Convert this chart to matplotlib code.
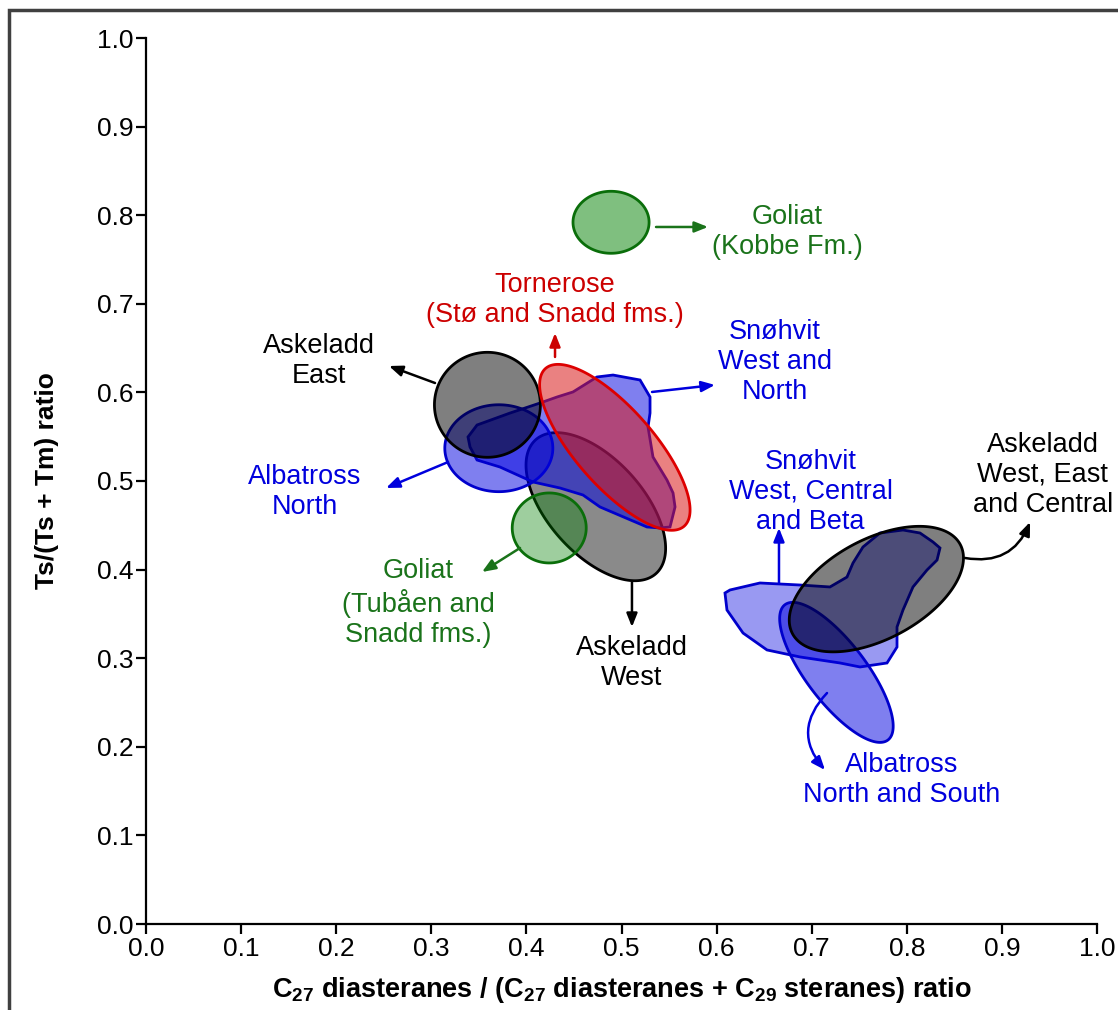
import numpy as np
import matplotlib
matplotlib.use("Agg")
import matplotlib.pyplot as plt
from matplotlib.patches import Polygon, Rectangle

plt.rcParams['font.family'] = ['Liberation Sans', 'DejaVu Sans']
plt.rcParams['mathtext.fontset'] = 'custom'
plt.rcParams['mathtext.rm'] = 'Liberation Sans:bold'
plt.rcParams['mathtext.it'] = 'Liberation Sans:bold'
plt.rcParams['mathtext.bf'] = 'Liberation Sans:bold'

# --- DATA ---
# ellipses: centre x, centre y, semi-axes (in x-axis units), angle (deg, on screen)
ell_names = ["Goliat Kobbe", "Askeladd West", "Goliat Tubaen", "Albatross North",
             "Askeladd East", "Tornerose", "Albatross N+S", "Askeladd WEC"]
ell_cx = [0.489, 0.473, 0.424, 0.371, 0.359, 0.493, 0.726, 0.768]
ell_cy = [0.792, 0.471, 0.447, 0.537, 0.586, 0.538, 0.284, 0.378]
ell_a = [0.040, 0.0946, 0.0389, 0.0568, 0.0557, 0.1104, 0.0894, 0.0999]
ell_b = [0.0326, 0.050, 0.0368, 0.0457, 0.0552, 0.041, 0.0315, 0.0526]
ell_ang = [0, -48, 0, 0, 0, -48.7, -52.7, 28]
ell_face = ['#008000', 'black', '#008000', '#0000e0', 'black', '#d91a1a', '#0000e0', 'black']
ell_alpha = [0.5, 0.46, 0.38, 0.5, 0.5, 0.55, 0.5, 0.5]
ell_edge = ['#0a6e0a', 'black', '#0a6e0a', '#0000cc', 'black', '#dd0000', '#0000cc', 'black']
ell_z = [3, 3, 4, 5, 7, 8, 4, 5]

# Snohvit West and North outline
swn_x = [0.3386, 0.3481, 0.3828, 0.4143, 0.4322, 0.4490, 0.4742, 0.4911, 0.5195, 0.5300,
         0.5300, 0.5279, 0.5331, 0.5478, 0.5542, 0.5563, 0.5510, 0.5405, 0.5268, 0.4774,
         0.4595, 0.4353, 0.4069, 0.3722, 0.3481, 0.3407]
swn_y = [0.5497, 0.5632, 0.5767, 0.5880, 0.5948, 0.6005, 0.6174, 0.6196, 0.6140, 0.5948,
         0.5767, 0.5609, 0.5271, 0.5011, 0.4865, 0.4707, 0.4481, 0.4470, 0.4481, 0.4707,
         0.4842, 0.4921, 0.4989, 0.5158, 0.5237, 0.5384]

# Snohvit West, Central and Beta outline
swcb_x = [0.6088, 0.6141, 0.6456, 0.6877, 0.7192, 0.7371, 0.7434, 0.7539, 0.7718, 0.7960,
          0.8139, 0.8275, 0.8349, 0.8318, 0.8212, 0.8065, 0.7960, 0.7897, 0.7897, 0.7792,
          0.7508, 0.7298, 0.6877, 0.6530, 0.6278, 0.6109]
swcb_y = [0.3736, 0.3770, 0.3849, 0.3826, 0.3804, 0.3916, 0.4074, 0.4255, 0.4413, 0.4447,
          0.4413, 0.4312, 0.4244, 0.4108, 0.3995, 0.3804, 0.3544, 0.3352, 0.3126, 0.2946,
          0.2901, 0.2946, 0.3014, 0.3093, 0.3284, 0.3544]

# labels: text, text position, arrow start -> arrow end, colour, curvature
lab_text = ["Goliat\n(Kobbe Fm.)", "Goliat\n(Tubåen and\nSnadd fms.)", "Askeladd\nEast",
            "Albatross\nNorth", "Snøhvit\nWest and\nNorth", "Tornerose\n(Stø and Snadd fms.)",
            "Askeladd\nWest", "Snøhvit\nWest, Central\nand Beta", "Askeladd\nWest, East\nand Central",
            "Albatross\nNorth and South"]
lab_x = [0.674, 0.286, 0.182, 0.167, 0.661, 0.430, 0.511, 0.699, 0.943, 0.795]
lab_y = [0.781, 0.362, 0.635, 0.488, 0.634, 0.704, 0.295, 0.488, 0.507, 0.1625]
arr_x0 = [0.5363, 0.3933, 0.3039, 0.3176, 0.5321, 0.4301, 0.5110, 0.6656, 0.8612, 0.7161]
arr_y0 = [0.7867, 0.4244, 0.6106, 0.5214, 0.6005, 0.6400, 0.3860, 0.3849, 0.4131, 0.2607]
arr_x1 = [0.5910, 0.3533, 0.2555, 0.2524, 0.5983, 0.4301, 0.5110, 0.6656, 0.9296, 0.7140]
arr_y1 = [0.7867, 0.3973, 0.6298, 0.4921, 0.6084, 0.6670, 0.3352, 0.4470, 0.4537, 0.1738]
lab_col = ['#1a731a', '#1a731a', 'black', '#0000dd', '#0000dd', '#cc0000',
           'black', '#0000dd', 'black', '#0000dd']
arr_rad = [0, 0, 0, 0, 0, 0, 0, 0, 0.4, 0.45]

# --- PLOT ---
W, H = 1118, 1010
fig = plt.figure(figsize=(W / 100, H / 100), dpi=100)
ax = fig.add_axes([146 / W, 1 - 924 / H, 951 / W, 886 / H])
ax.set_xlim(0, 1)
ax.set_ylim(0, 1)

# screen aspect: y-units are shorter than x-units
s = 886 / 951

t = np.linspace(0, 2 * np.pi, 200)
for i in range(len(ell_cx)):
    th = np.deg2rad(ell_ang[i])
    u = ell_a[i] * np.cos(t) * np.cos(th) - ell_b[i] * np.sin(t) * np.sin(th)
    v = ell_a[i] * np.cos(t) * np.sin(th) + ell_b[i] * np.sin(t) * np.cos(th)
    pts = np.column_stack([ell_cx[i] + u, ell_cy[i] + v / s])
    ax.add_patch(Polygon(pts, closed=True, facecolor=ell_face[i], alpha=ell_alpha[i],
                         edgecolor='none', zorder=ell_z[i]))
    ax.add_patch(Polygon(pts, closed=True, facecolor='none', edgecolor=ell_edge[i],
                         lw=2, zorder=ell_z[i]))

for xs, ys, al, z in [(swn_x, swn_y, 0.5, 6), (swcb_x, swcb_y, 0.4, 3)]:
    pts = np.column_stack([xs, ys])
    ax.add_patch(Polygon(pts, closed=True, facecolor='#0000e0', alpha=al,
                         edgecolor='none', zorder=z))
    ax.add_patch(Polygon(pts, closed=True, facecolor='none', edgecolor='#0000cc',
                         lw=2, zorder=z))

for i in range(len(lab_text)):
    ax.text(lab_x[i], lab_y[i], lab_text[i], color=lab_col[i], fontsize=19.5,
            ha='center', va='center', linespacing=1.2, zorder=10)
    ax.annotate("", xy=(arr_x1[i], arr_y1[i]), xytext=(arr_x0[i], arr_y0[i]),
                arrowprops=dict(arrowstyle='-|>,head_length=0.8,head_width=0.32',
                                color=lab_col[i], lw=1.8, shrinkA=0, shrinkB=0,
                                connectionstyle=f"arc3,rad={arr_rad[i]}"),
                zorder=10)

for sp in ['top', 'right']:
    ax.spines[sp].set_visible(False)
for sp in ['left', 'bottom']:
    ax.spines[sp].set_linewidth(1.6)
ax.set_xticks(np.arange(0, 1.01, 0.1))
ax.set_yticks(np.arange(0, 1.01, 0.1))
ax.xaxis.set_major_formatter(matplotlib.ticker.FormatStrFormatter('%.1f'))
ax.yaxis.set_major_formatter(matplotlib.ticker.FormatStrFormatter('%.1f'))
ax.tick_params(width=1.6, length=7, labelsize=19, pad=2)
ax.patch.set_alpha(0)

ax.set_xlabel(r"C$_{27}$ diasteranes / (C$_{27}$ diasteranes + C$_{29}$ steranes) ratio",
              fontsize=19.5, fontweight='bold')
ax.set_ylabel("Ts/(Ts + Tm) ratio", fontsize=19, fontweight='bold')
ax.xaxis.set_label_coords(0.5, -0.057)
ax.yaxis.set_label_coords(-0.092, 0.5)

fig.patches.append(Rectangle((9 / W, -0.2), 1.5, 1.2 - 10 / H, transform=fig.transFigure,
                             fill=False, edgecolor='#404040', lw=2.5))

fig.savefig("out.png", dpi=100)
